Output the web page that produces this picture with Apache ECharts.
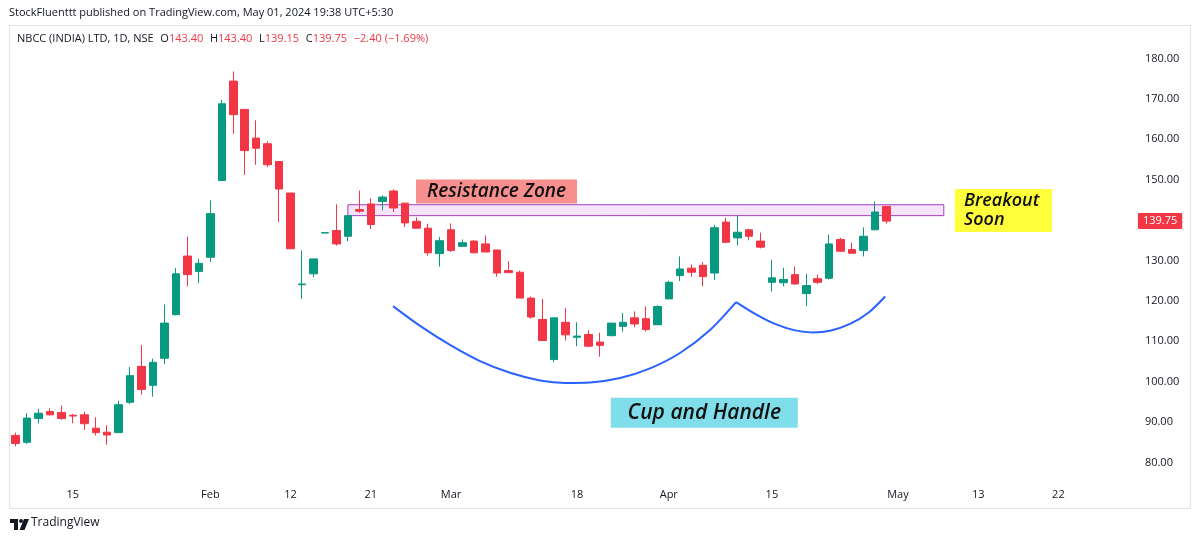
<!DOCTYPE html>
<html>
<head>
<meta charset="utf-8">
<script src="https://cdn.jsdelivr.net/npm/echarts@6/dist/echarts.min.js"></script>
<style>
html,body{margin:0;padding:0;background:#fff;}
#chart{width:1200px;height:542px;}
</style>
</head>
<body>
<div id="chart"></div>
<script>
// ---- trading days (category axis), incl. future empty days ----
const dates = [
 '2024-01-08','2024-01-09','2024-01-10','2024-01-11','2024-01-12','2024-01-15','2024-01-16','2024-01-17','2024-01-18','2024-01-19',
 '2024-01-20','2024-01-23','2024-01-24','2024-01-25','2024-01-29','2024-01-30','2024-01-31','2024-02-01','2024-02-02','2024-02-05',
 '2024-02-06','2024-02-07','2024-02-08','2024-02-09','2024-02-12','2024-02-13','2024-02-14','2024-02-15','2024-02-16','2024-02-19',
 '2024-02-20','2024-02-21','2024-02-22','2024-02-23','2024-02-26','2024-02-27','2024-02-28','2024-02-29','2024-03-01','2024-03-02',
 '2024-03-04','2024-03-05','2024-03-06','2024-03-07','2024-03-11','2024-03-12','2024-03-13','2024-03-14','2024-03-15','2024-03-18',
 '2024-03-19','2024-03-20','2024-03-21','2024-03-22','2024-03-26','2024-03-27','2024-03-28','2024-04-01','2024-04-02','2024-04-03',
 '2024-04-04','2024-04-05','2024-04-08','2024-04-09','2024-04-10','2024-04-12','2024-04-15','2024-04-16','2024-04-18','2024-04-19',
 '2024-04-22','2024-04-23','2024-04-24','2024-04-25','2024-04-26','2024-04-29','2024-04-30',
 '2024-05-02','2024-05-03','2024-05-06','2024-05-07','2024-05-08','2024-05-09','2024-05-10','2024-05-13','2024-05-14','2024-05-15',
 '2024-05-16','2024-05-17','2024-05-20','2024-05-21','2024-05-22','2024-05-23','2024-05-24','2024-05-27','2024-05-28','2024-05-29',
 '2024-05-30'
];
const opens = [86.7,85.0,90.9,92.6,92.4,91.7,91.8,88.5,87.5,87.4,94.9,103.8,99.1,105.8,116.6,131.1,127.3,130.8,149.8,174.4,
 167.4,160.3,158.9,154.5,146.7,124.0,126.7,136.8,137.4,136.0,142.6,144.0,144.6,147.2,144.2,139.7,138.0,131.7,137.6,133.5,
 134.8,134.1,132.6,127.5,127.1,120.7,115.4,105.5,114.7,111.0,111.7,109.8,111.4,113.7,115.8,115.6,114.1,120.5,126.3,128.1,
 128.8,126.9,139.5,135.6,137.6,134.8,124.6,124.5,126.5,121.8,125.5,125.6,135.2,132.7,132.5,137.6,143.40];
const closes = [84.7,91.0,92.2,91.8,90.9,91.5,89.6,87.4,86.8,94.3,101.5,98.1,104.8,114.5,126.7,126.5,129.3,141.6,168.8,166.1,
 157.2,157.8,153.7,147.7,132.9,124.2,130.4,136.9,134.1,141.1,142.2,138.9,145.7,143.0,139.3,138.0,131.9,134.9,132.5,134.4,
 131.9,132.1,126.9,127.0,120.7,116.0,110.2,115.8,111.6,111.3,108.8,109.0,114.5,114.7,114.3,112.9,118.6,124.6,127.9,127.1,
 126.0,138.1,134.5,137.0,136.0,133.3,125.7,125.3,124.2,123.8,124.6,134.1,132.3,131.8,136.0,142.0,139.75];
const lows = [84.0,84.6,89.7,91.6,90.6,89.7,88.1,86.7,84.4,87.4,94.5,96.8,96.3,104.4,116.4,123.6,124.4,129.6,149.8,161.4,
 151.2,153.7,153.1,139.5,132.9,120.5,125.9,136.8,133.7,134.8,141.8,137.8,142.4,142.0,138.3,138.0,131.2,128.5,132.1,133.5,
 131.9,132.1,126.0,127.0,120.7,115.6,110.2,104.8,110.2,108.8,108.5,106.2,111.2,112.4,113.5,112.4,114.1,120.5,124.9,126.0,
 123.6,125.2,134.3,133.7,135.0,133.0,122.3,123.6,124.0,118.7,124.2,125.3,132.1,131.8,131.0,137.6,139.15];
const highs = [87.4,92.2,93.3,93.4,94.1,92.0,92.6,91.2,89.2,95.3,103.6,109.1,105.7,119.1,128.1,135.9,130.4,144.9,169.8,176.8,
 167.4,164.7,159.5,154.5,146.7,132.5,130.4,136.9,143.9,141.1,147.3,145.4,146.1,147.6,144.2,140.7,139.1,135.8,139.2,135.2,
 135.0,136.2,132.6,129.8,127.5,121.1,120.5,115.8,118.2,114.7,112.7,112.1,114.5,117.0,117.4,118.6,118.9,125.0,131.0,129.0,
 129.6,138.8,140.6,141.1,137.8,136.9,130.2,128.2,128.5,126.7,126.5,136.4,135.6,134.4,138.2,144.6,143.40];

// x-axis tick labels shown (date -> label)
const tickDates  = ['2024-01-15','2024-02-01','2024-02-12','2024-02-21','2024-03-01','2024-03-18','2024-04-01','2024-04-15','2024-05-02','2024-05-13','2024-05-22'];
const tickLabels = ['15','Feb','12','21','Mar','18','Apr','15','May','13','22'];
const priceTicks = [80,90,100,110,120,130,140,150,160,170,180];
const lastPrice = 139.75;

// drawings, in (bar index, price) space
const zoneStart = [29, 143.8];
const zoneEnd   = [81, 141.1];
const cupCurve = [[32.94,118.7],[35.30,113.8],[37.91,109.1],[40.53,105.1],[43.15,102.2],[45.77,100.3],[47.95,99.7],[50.13,99.8],[52.75,100.9],[55.37,103.3],[57.98,107.1],[60.60,112.8],[62.87,119.7]];
const handleCurve = [[62.87,119.7],[64.53,116.8],[66.27,114.3],[68.02,112.7],[69.59,112.2],[71.07,112.6],[72.82,114.3],[74.39,117.0],[75.88,121.1]];
const noteTexts = ['Resistance Zone','Cup and Handle','Breakout\nSoon'];
const notePos = [[41.97,147.1],[60.1,92.3],[86.2,142.4]];

const noteStyle = [
  {w:161,h:24,fill:'#f78f8f',font:'italic 600 19px "Open Sans"',align:'center',lh:24},
  {w:187,h:30,fill:'#80deea',font:'italic 600 21px "Open Sans"',align:'center',lh:28},
  {w:97,h:43,fill:'#ffff3b',font:'italic 600 18px "Open Sans"',align:'left',lh:19}
];

const UP='#089981', DOWN='#f23645';
const N = dates.length;
const ohlc = opens.map((o,i)=>[o, closes[i], lows[i], highs[i]]);

const chart = echarts.init(document.getElementById('chart'), null, {renderer:'canvas'});
const FONT = '"Open Sans", "Noto Sans", sans-serif';

const option = {
  animation:false,
  backgroundColor:'#ffffff',
  grid:{left:9.8, right:67.1, top:38.3, bottom:59.3, containLabel:false},
  xAxis:[
    {type:'category', data:dates, boundaryGap:true,
     axisLine:{show:false}, axisTick:{show:false}, splitLine:{show:false},
     axisLabel:{
       interval:(idx,val)=>tickDates.indexOf(val)>=0,
       formatter:(val)=>{const k=tickDates.indexOf(val);return k>=0?tickLabels[k]:'';},
       color:'#131722', fontSize:11, fontFamily:FONT, margin:7
     }},
    {type:'value', min:-0.5, max:N-0.5, show:false}
  ],
  yAxis:[{type:'value', position:'right', min:75, max:185, interval:5, scale:false,
    axisLine:{show:false}, axisTick:{show:false}, splitLine:{show:false},
    axisLabel:{formatter:(v)=>priceTicks.indexOf(v)>=0? v.toFixed(2):'',
      color:'#131722', fontSize:11, fontFamily:FONT, margin:12, showMinLabel:true, showMaxLabel:true}
  }],
  series:[
    {type:'line', xAxisIndex:1, data:[], silent:true,
     markArea:{silent:true, itemStyle:{color:'#f6e4fa', borderColor:'#a53fbf', borderWidth:1},
       data:[[{coord:zoneStart},{coord:zoneEnd}]]}, z:1},
    {type:'candlestick', xAxisIndex:0, data:ohlc, barWidth:8, z:3,
     itemStyle:{color:UP, color0:DOWN, borderColor:UP, borderColor0:DOWN, borderWidth:1},
     markLine:{silent:true, symbol:['none','none'], animation:false,
       lineStyle:{color:'rgba(0,0,0,0)', width:0},
       label:{show:true, position:'end', distance:5, formatter:lastPrice.toFixed(2),
         backgroundColor:DOWN, color:'#fff', fontSize:11, fontFamily:FONT, padding:[3,5,2,5], borderRadius:1},
       data:[{yAxis:lastPrice}]}
    },
    {type:'line', xAxisIndex:1, data:cupCurve, smooth:0.3, symbol:'none', silent:true, z:4,
     lineStyle:{color:'#2962ff', width:2}},
    {type:'line', xAxisIndex:1, data:handleCurve, smooth:0.3, symbol:'none', silent:true, z:4,
     lineStyle:{color:'#2962ff', width:2}},
    {type:'custom', xAxisIndex:1, silent:true, z:5,
     data:notePos,
     renderItem:(params, api)=>{
       const i = params.dataIndex;
       const p = api.coord([api.value(0), api.value(1)]);
       const s = noteStyle[i];
       const x0 = p[0]-s.w/2, y0 = p[1]-s.h/2;
       return {type:'group', children:[
         {type:'rect', shape:{x:x0,y:y0,width:s.w,height:s.h}, style:{fill:s.fill}},
         {type:'text', x: s.align==='center'? p[0] : x0+9, y:p[1],
          style:{text:noteTexts[i], font:s.font, fill:'#111', align:s.align, verticalAlign:'middle', lineHeight:s.lh}}
       ]};
     }}
  ],
  graphic:[
    {type:'rect', shape:{x:9.5,y:25.5,width:1181,height:483}, style:{fill:'none', stroke:'#e0e3eb', lineWidth:1}, silent:true, z:0},
    {type:'text', left:9, top:7, style:{text:'StockFluenttt published on TradingView.com, May 01, 2024 19:38 UTC+5:30', font:'11px "Open Sans"', fill:'#131722'}},
    {type:'text', left:17, top:33, style:{
      text:'{a|NBCC (INDIA) LTD, 1D, NSE}  {a|O}{r|143.40}  {a|H}{r|143.40}  {a|L}{r|139.15}  {a|C}{r|139.75}  {r|−2.40 (−1.69%)}',
      rich:{a:{font:'11px "Open Sans"', fill:'#131722'}, r:{font:'11px "Open Sans"', fill:'#f23645'}}}},
    // TradingView logo mark
    {type:'group', left:10, top:519, children:[
      {type:'rect', shape:{x:0,y:0,width:8,height:4}, style:{fill:'#131722'}},
      {type:'rect', shape:{x:4,y:0,width:4,height:11}, style:{fill:'#131722'}},
      {type:'circle', shape:{cx:11,cy:2,r:2}, style:{fill:'#131722'}},
      {type:'polygon', shape:{points:[[14,0],[19,0],[14.5,11],[9.5,11]]}, style:{fill:'#131722'}}
    ]},
    {type:'text', left:31, top:517, style:{text:'TradingView', font:'12px "Open Sans"', fill:'#131722'}}
  ]
};
chart.setOption(option);
</script>
</body>
</html>
